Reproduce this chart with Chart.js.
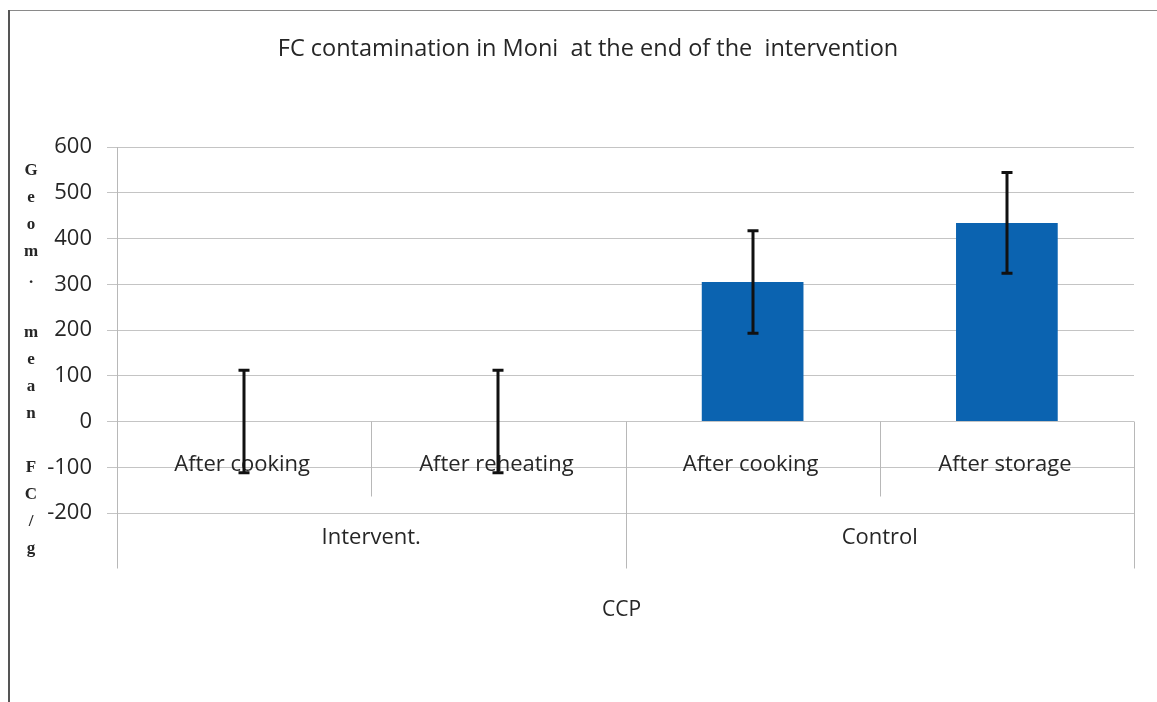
<!DOCTYPE html>
<html><head><meta charset="utf-8">
<script src="https://cdn.jsdelivr.net/npm/chart.js@4"></script>
<style>html,body{margin:0;padding:0;background:#fff}canvas{display:block}</style>
</head><body>
<canvas id="c" width="1157" height="702"></canvas>
<script>
const chartTitle = 'FC contamination in Moni  at the end of the  intervention';
const groupLabels = ['Intervent.', 'Control'];
const categoryLabels = ['After cooking', 'After reheating', 'After cooking', 'After storage'];
const categoryGroup = [0, 0, 1, 1];
const meanValues = [0, 0, 305, 434];
const errorValues = [112, 112, 112, 110];
const yTicks = [-200, -100, 0, 100, 200, 300, 400, 500, 600];
const yAxisTitle = 'Geom. mean FC/g';
const xAxisTitle = 'CCP';

const TEXT = '#262626';
const FONT = '"Open Sans", "Liberation Sans", sans-serif';

const decor = {
  id: 'decor',
  beforeDraw(chart) {
    const ctx = chart.ctx;
    ctx.save();
    ctx.fillStyle = '#ffffff';
    ctx.fillRect(0, 0, chart.width, chart.height);
    ctx.strokeStyle = '#8a8a8a';
    ctx.lineWidth = 1;
    ctx.beginPath(); ctx.moveTo(9, 10.5); ctx.lineTo(chart.width, 10.5); ctx.stroke();
    ctx.strokeStyle = '#555555';
    ctx.lineWidth = 2;
    ctx.beginPath(); ctx.moveTo(9, 10); ctx.lineTo(9, chart.height); ctx.stroke();
    ctx.restore();
  },
  afterDraw(chart) {
    const ctx = chart.ctx, xs = chart.scales.x, ys = chart.scales.y, ca = chart.chartArea;
    const n = categoryLabels.length;
    const y0 = ys.getPixelForValue(0);
    const half = (xs.getPixelForValue(1) - xs.getPixelForValue(0)) / 2;
    ctx.save();
    // category separators
    ctx.strokeStyle = '#b8b8b8';
    ctx.lineWidth = 1;
    for (let i = 0; i <= n; i++) {
      const bx = i < n ? xs.getPixelForValue(i) - half : xs.getPixelForValue(n - 1) + half;
      const groupEdge = i === 0 || i === n || categoryGroup[i] !== categoryGroup[i - 1];
      const bottom = groupEdge ? y0 + 147 : y0 + 75;
      const top = i === 0 ? ca.top : y0;
      ctx.beginPath();
      ctx.moveTo(Math.round(bx) + 0.5, top);
      ctx.lineTo(Math.round(bx) + 0.5, bottom);
      ctx.stroke();
    }
    // category labels
    ctx.fillStyle = TEXT;
    ctx.font = '22px ' + FONT;
    ctx.textAlign = 'center';
    ctx.textBaseline = 'middle';
    categoryLabels.forEach((l, i) => ctx.fillText(l, xs.getPixelForValue(i) - 2, y0 + 43));
    groupLabels.forEach((g, gi) => {
      const idx = categoryGroup.map((c, i) => c === gi ? i : -1).filter(i => i >= 0);
      const cx = (xs.getPixelForValue(idx[0]) + xs.getPixelForValue(idx[idx.length - 1])) / 2;
      ctx.fillText(g, cx, y0 + 116);
    });
    // x axis title
    ctx.font = '21px ' + FONT;
    ctx.fillText(xAxisTitle, (ca.left + ca.right) / 2 - 4, 610);
    // y axis title stacked letters
    ctx.font = 'bold 17px "Liberation Serif", "DejaVu Serif", serif';
    const chars = yAxisTitle.split('');
    const step = 27;
    const mid = (ca.top + ca.bottom) / 2 + 30;
    chars.forEach((ch, i) => {
      ctx.fillText(ch, 31, mid + (i - (chars.length - 1) / 2) * step);
    });
    // error bars
    ctx.strokeStyle = '#111111';
    ctx.lineWidth = 3;
    meanValues.forEach((m, i) => {
      const px = Math.round(xs.getPixelForValue(i));
      const yt = ys.getPixelForValue(m + errorValues[i]);
      const yb = ys.getPixelForValue(m - errorValues[i]);
      ctx.beginPath();
      ctx.moveTo(px, yt); ctx.lineTo(px, yb);
      ctx.moveTo(px - 5.5, yt); ctx.lineTo(px + 5.5, yt);
      ctx.moveTo(px - 5.5, yb); ctx.lineTo(px + 5.5, yb);
      ctx.stroke();
    });
    ctx.restore();
  }
};

new Chart(document.getElementById('c').getContext('2d'), {
  type: 'bar',
  data: {
    labels: categoryLabels,
    datasets: [{
      data: meanValues,
      backgroundColor: '#0b63b0',
      borderWidth: 0,
      categoryPercentage: 1,
      barPercentage: 0.4
    }]
  },
  plugins: [decor],
  options: {
    responsive: false,
    animation: false,
    devicePixelRatio: 1,
    layout: { padding: { left: 42, right: 23, top: 0, bottom: 189 } },
    plugins: {
      legend: { display: false },
      tooltip: { enabled: false },
      title: {
        display: true,
        text: chartTitle,
        color: TEXT,
        font: { family: FONT, size: 23.5, weight: 'normal', lineHeight: 1.2 },
        padding: { top: 35, bottom: 83.8 }
      }
    },
    scales: {
      x: { display: false, offset: true, grid: { display: false } },
      y: {
        min: -200,
        max: 600,
        afterFit(s) { s.width = 75; },
        afterBuildTicks(s) { s.ticks = yTicks.map(v => ({ value: v })); },
        ticks: { font: { family: FONT, size: 22 }, color: TEXT, padding: 15 },
        grid: { color: '#c4c4c4', lineWidth: 1, tickLength: 10 },
        border: { color: '#b8b8b8' }
      }
    }
  }
});
</script>
</body></html>
